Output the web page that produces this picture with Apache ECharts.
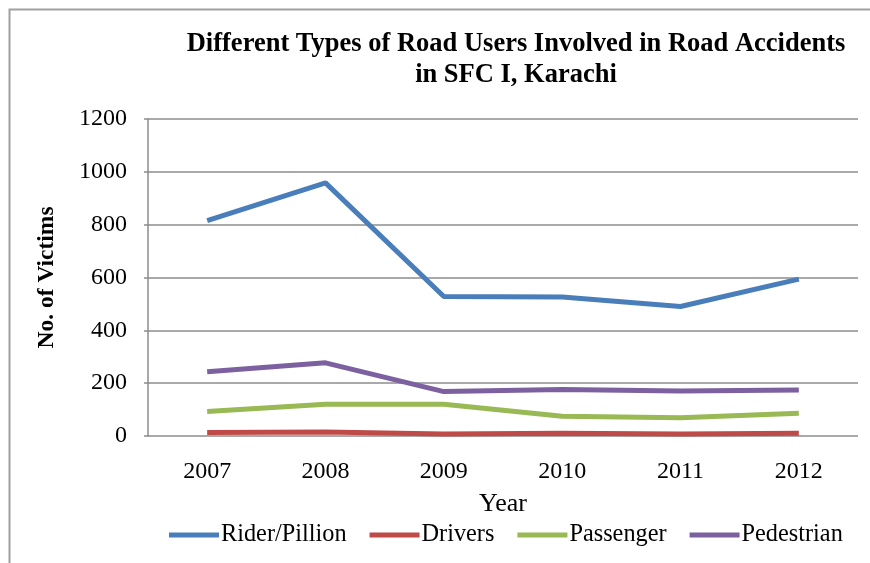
<!DOCTYPE html>
<html><head><meta charset="utf-8">
<script src="https://cdn.jsdelivr.net/npm/echarts@6/dist/echarts.min.js"></script>
<style>html,body{margin:0;padding:0;background:#fff}#c{width:870px;height:563px}</style>
</head><body><div id="c"></div>
<script>
const years = ['2007','2008','2009','2010','2011','2012'];
const riderPillion = [815, 958, 528, 526, 490, 594];
const drivers = [13, 15, 8, 10, 8, 10];
const passenger = [93, 120, 120, 75, 69, 86];
const pedestrian = [243, 277, 168, 176, 170, 174];
const seriesNames = ['Rider/Pillion','Drivers','Passenger','Pedestrian'];
const seriesColors = ['#4a7ebb','#be4b48','#98b954','#7d60a0'];
const seriesData = [riderPillion, drivers, passenger, pedestrian];

const FONT = '"Liberation Serif", "Times New Roman", serif';
const chart = echarts.init(document.getElementById('c'), null, {renderer:'canvas'});
chart.setOption({
  animation: false,
  textStyle: {fontFamily: FONT, color: '#000'},
  graphic: [{type:'rect', shape:{x:9.5, y:9.5, width:900, height:600}, style:{fill:null, stroke:'#a0a0a0', lineWidth:2}, z:-1}],
  title: {
    text: 'Different Types of Road Users Involved in Road Accidents\nin SFC I, Karachi',
    left: 511, top: 24, textAlign: 'center',
    textStyle: {fontFamily: FONT, fontWeight: 'bold', fontSize: 26.5, lineHeight: 31, color: '#000'}
  },
  grid: {left: 148, right: 12, top: 119, bottom: 127, containLabel: false},
  legend: {
    data: seriesNames, left: 164, top: 518, itemWidth: 50, itemHeight: 5, itemGap: 23, icon: 'rect',
    textStyle: {fontFamily: FONT, fontSize: 24.3, color: '#000', padding: [0,0,0,-3]}
  },
  xAxis: {
    type: 'category', data: years, boundaryGap: true,
    name: 'Year', nameLocation: 'middle', nameGap: 55,
    nameTextStyle: {fontFamily: FONT, fontSize: 26, color: '#000'},
    axisLine: {show: false}, axisTick: {show: false},
    axisLabel: {fontFamily: FONT, fontSize: 24, color: '#000', margin: 24}
  },
  yAxis: {
    type: 'value', min: 0, max: 1200, interval: 200,
    name: 'No. of Victims', nameLocation: 'middle', nameGap: 89, nameRotate: 90,
    nameTextStyle: {fontFamily: FONT, fontSize: 23.5, fontWeight: 'bold', color: '#000'},
    axisLine: {show: true, lineStyle: {color: '#8c8c8c', width: 1.5}},
    axisTick: {show: true, length: 4, lineStyle: {color: '#8c8c8c', width: 1.5}},
    axisLabel: {fontFamily: FONT, fontSize: 24, color: '#000', margin: 21, formatter: v => String(v)},
    splitLine: {lineStyle: {color: '#8c8c8c', width: 1.5}}
  },
  series: seriesData.map((d, i) => ({
    name: seriesNames[i], type: 'line', data: d, symbol: 'none',
    lineStyle: {color: seriesColors[i], width: 5}, itemStyle: {color: seriesColors[i]}
  }))
});
</script></body></html>
